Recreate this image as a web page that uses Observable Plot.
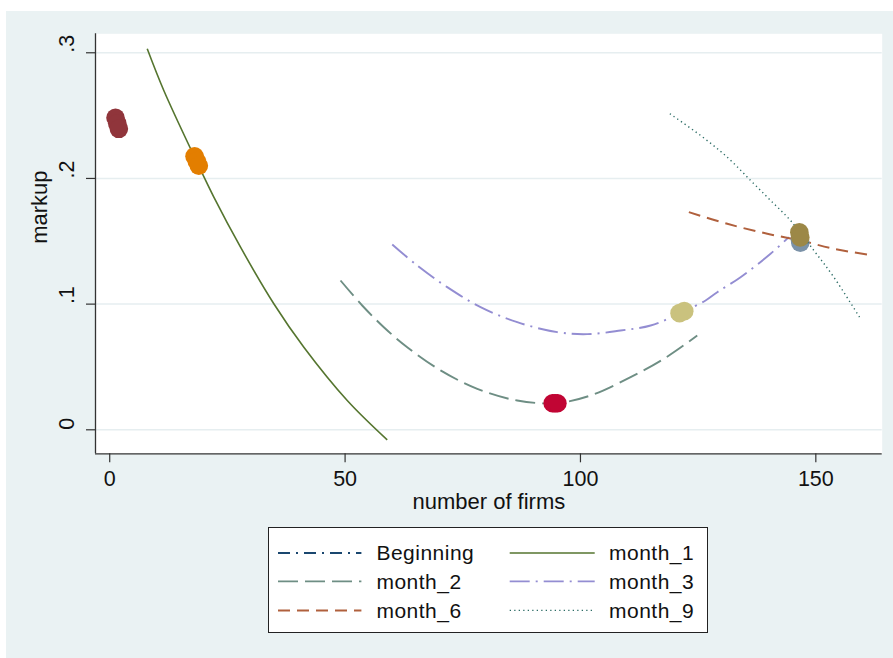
<!DOCTYPE html>
<html><head><meta charset="utf-8">
<script src="https://cdn.jsdelivr.net/npm/d3@7"></script>
<script src="https://cdn.jsdelivr.net/npm/@observablehq/plot@0.6"></script>
<style>
html,body{margin:0;padding:0;background:#fff;}
#wrap{position:absolute;left:6px;top:11px;width:887px;height:647px;background:#eaf2f3;overflow:hidden;font-family:"Liberation Sans",Arial,Helvetica,sans-serif;}
#legend{position:absolute;left:262.3px;top:516.3px;width:439.4px;height:106px;box-sizing:border-box;background:#fff;border:1px solid #222;}
#legend svg{position:absolute;left:-1px;top:-1px;}
</style></head><body><div id="wrap"><div id="legend"></div></div>
<script>
// ---- data ----
const seriesNames = ["Beginning", "month_1", "month_2", "month_3", "month_6", "month_9"];
const lineColors = ["#1a476f", "#55752f", "#6e8e84", "#938dd2", "#b0603d", "#2d6d66"];
const dotColors = ["#90353b", "#e37e00", "#c10534", "#cac27e", "#7b92a8", "#9c8847"];
const xTicks = [0, 50, 100, 150];
const xTickLabels = ["0", "50", "100", "150"];
const yTicks = [0, 0.1, 0.2, 0.3];
const yTickLabels = ["0", ".1", ".2", ".3"];
const xTitle = "number of firms";
const yTitle = "markup";

// fitted curves [number of firms, markup]
const beginningLine = [];
const month1Line = [[7.97,0.3032],[11.49,0.2700],[18.44,0.2137],[22.12,0.1851],[27.79,0.1453],[34.86,0.1003],[41.24,0.0657],[50.46,0.0233],[58.95,-0.0080]];
const month2Line = [[49.03,0.1188],[53.64,0.0989],[58.23,0.0816],[63.2,0.0657],[70.28,0.0473],[78.08,0.0326],[86.57,0.0233],[94.71,0.0212],[102.15,0.0273],[110.65,0.0419],[117.72,0.0565],[124.81,0.0750]];
const month3Line = [[60.02,0.1475],[65.33,0.1307],[71.7,0.1135],[78.78,0.0976],[86.57,0.0856],[95.07,0.0777],[101.44,0.0761],[108.52,0.0790],[114.9,0.0830],[121.63,0.0936],[126.58,0.1029],[129.06,0.1095],[134.01,0.1214],[140.38,0.1401],[144.27,0.1533]];
const month6Line = [[123.03,0.1732],[131.19,0.1639],[139.69,0.1560],[146.76,0.1506],[153.83,0.1440],[160.93,0.1395]];
const month9Line = [[118.99,0.2515],[125.51,0.2342],[131.19,0.2169],[136.14,0.1984],[140.38,0.1825],[144.63,0.1665],[149.58,0.1427],[153.83,0.1214],[159.5,0.0883]];

// observed points [number of firms, markup]
const beginningDots = [[1.23,0.2483],[1.59,0.2439],[1.94,0.2395]];
const month1Dots = [[18.02,0.2177],[18.48,0.2139],[18.93,0.2101]];
const month2Dots = [[94.1,0.0211],[94.6,0.0211],[95.1,0.0211]];
const month3Dots = [[121.05,0.0928],[122.05,0.0944]];
const month6Dots = [[146.6,0.1515],[146.7,0.1489]];
const month9Dots = [[146.5,0.1572],[146.7,0.1530]];

const lines = [beginningLine, month1Line, month2Line, month3Line, month6Line, month9Line];
const dots = [beginningDots, month1Dots, month2Dots, month3Dots, month6Dots, month9Dots];
const lineDash = ["12,6,2,6", null, "20,7", "20,6,2,6", "12,7", "1.3,3.2"];
const lineWidth = [1.8, 1.6, 1.9, 1.9, 2.0, 1.4];

const xDomain = [-3.02, 164.1];
const yDomain = [-0.0191, 0.3151];
const FONT = "'Liberation Sans', Arial, Helvetica, sans-serif";

const layers = [];
lines.forEach((ln, i) => {
  if (ln.length) layers.push(Plot.line(ln, {x: d => d[0], y: d => d[1], stroke: lineColors[i], strokeWidth: lineWidth[i], strokeDasharray: lineDash[i] || undefined, curve: "catmull-rom", strokeLinecap: "butt"}));
  if (dots[i].length) layers.push(Plot.dot(dots[i], {x: d => d[0], y: d => d[1], r: 9.3, fill: dotColors[i], stroke: null}));
});

const chart = Plot.plot({
  width: 887, height: 504,
  marginLeft: 89, marginRight: 11.3, marginTop: 22.3, marginBottom: 61.7,
  style: {background: "#eaf2f3", fontFamily: FONT, fontSize: "21px", color: "#000", overflow: "visible"},
  x: {domain: xDomain},
  y: {domain: yDomain},
  marks: [
    Plot.frame({fill: "white", stroke: null}),
    Plot.gridY(yTicks, {stroke: "#e6eef0", strokeOpacity: 1, strokeWidth: 1.5}),
    Plot.axisX({ticks: xTicks, tickSize: 9, tickFormat: () => "", stroke: "#333", strokeWidth: 1.2, label: null}),
    Plot.axisY({ticks: yTicks, tickSize: 9, tickFormat: () => "", stroke: "#333", strokeWidth: 1.2, label: null}),
    Plot.ruleX([xDomain[0]], {stroke: "#333", strokeWidth: 1.3}),
    Plot.ruleY([yDomain[0]], {stroke: "#333", strokeWidth: 1.3}),
    Plot.text(xTicks, {x: d => d, text: (d, i) => xTickLabels[i], frameAnchor: "bottom", dy: 31.7, lineAnchor: "bottom", fontSize: 21.5, fill: "#111"}),
    Plot.text(yTicks, {y: d => d, text: (d, i) => yTickLabels[i], frameAnchor: "left", dx: -21.5, rotate: -90, lineAnchor: "bottom", fontSize: 21.5, fill: "#111"}),
    Plot.text([xTitle], {frameAnchor: "bottom", dy: 54.7, lineAnchor: "bottom", fontSize: 22, fill: "#111"}),
    Plot.text([yTitle], {frameAnchor: "left", dx: -49, rotate: -90, lineAnchor: "bottom", fontSize: 22, fill: "#111"}),
    ...layers
  ]
});
const wrap = document.getElementById("wrap");
chart.style.position = "absolute";
chart.style.left = "0px";
chart.style.top = "0px";
wrap.insertBefore(chart, wrap.firstChild);

// ---- legend ----
const lg = d3.select("#legend").append("svg").attr("width", 439.4).attr("height", 106)
  .style("font-family", FONT).style("font-size", "21px").style("letter-spacing", "0.5px");
const rowsY = [26, 54.4, 83.4];
const colSw = [[10, 93.4], [241.7, 326.7]];
const colTx = [108.4, 341];
seriesNames.forEach((name, i) => {
  const r = Math.floor(i / 2), c = i % 2;
  lg.append("line").attr("x1", colSw[c][0]).attr("x2", colSw[c][1]).attr("y1", rowsY[r]).attr("y2", rowsY[r])
    .attr("stroke", lineColors[i]).attr("stroke-width", lineWidth[i])
    .attr("stroke-dasharray", lineDash[i] || null);
  lg.append("text").attr("x", colTx[c]).attr("y", rowsY[r] + 7.3).attr("fill", "#111").text(name);
});
</script></body></html>
